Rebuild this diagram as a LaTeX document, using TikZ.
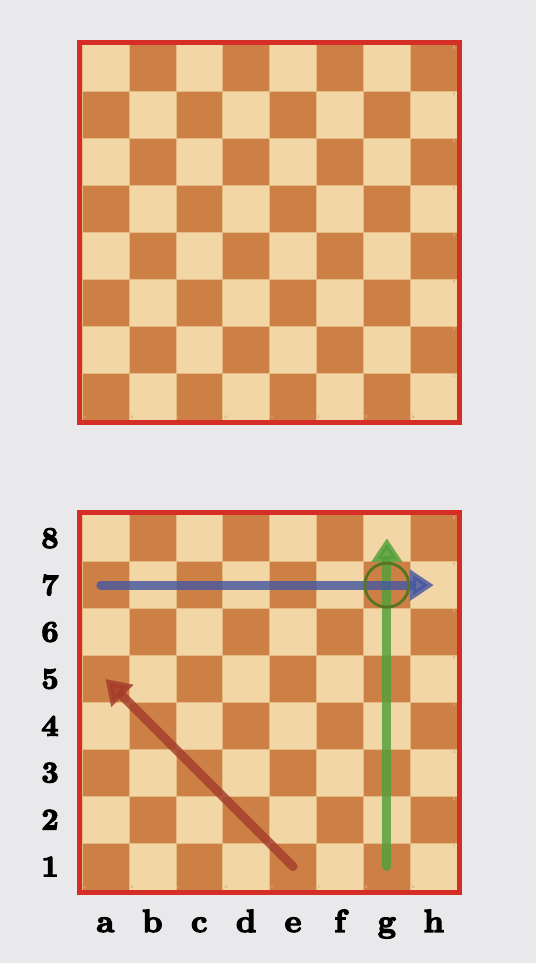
\documentclass[tikz,border=0pt]{standalone}
\usepackage{fontspec}
\newfontfamily\fatface{lmroman10-bold.otf}[FakeBold=4]
\usetikzlibrary{arrows.meta}
\definecolor{bgpaper}{RGB}{233,233,235}
\definecolor{woodlight}{RGB}{242,214,166}
\definecolor{wooddark}{RGB}{204,128,70}
\definecolor{woodedge}{RGB}{228,186,130}
\definecolor{marklight}{RGB}{238,190,140}
\definecolor{markdark}{RGB}{196,150,100}
\definecolor{framered}{RGB}{212,46,38}
\definecolor{moveblue}{RGB}{70,88,160}
\definecolor{movegreen}{RGB}{82,160,58}
\definecolor{movered}{RGB}{164,60,44}
\definecolor{ringgreen}{RGB}{86,116,34}
\newcommand{\sqsize}{46.9}

\begin{document}
\begin{tikzpicture}[
    x=1pt,
    y=1pt,
    square/.style={draw=woodedge, line width=0.6pt},
    frame/.style={draw=framered, line width=5pt},
    rankmark/.style={font=\fontsize{30}{30}\selectfont\fatface},
    filemark/.style={font=\fontsize{32}{32}\selectfont\fatface, anchor=base},
    tinymark/.style={font=\fontsize{4.5}{5}\selectfont, inner sep=1.2pt},
    move/.style={line width=9pt, line cap=round,
      -{Triangle[width=30pt,length=24pt]}, opacity=0.82},
    ring/.style={circle, draw=ringgreen, line width=2.8pt,
      minimum size=44pt, inner sep=0pt}
  ]
    % Paper background, picture is 536 x 963 (1pt per pixel).
    \fill[bgpaper] (0,0) rectangle (536,963);
    \useasboundingbox (0,0) rectangle (536,963);

    % Two boards: lower left corner of the squares at (82,\by).
    \foreach \by/\bn in {543/top,73/bot} {
      \foreach \f in {0,...,7} {
        \foreach \r in {0,...,7} {
          \pgfmathtruncatemacro{\sqpar}{mod(\f+\r,2)}
          \ifnum\sqpar=0 \def\sqcol{wooddark}\else\def\sqcol{woodlight}\fi
          \path[square, fill=\sqcol] (82+\f*\sqsize,\by+\r*\sqsize)
            rectangle ++(\sqsize,\sqsize);
        }
      }
      % Faint coordinates printed on the board.
      \foreach \f/\fl in {0/a,1/b,2/c,3/d,4/e,5/f,6/g,7/h} {
        \pgfmathtruncatemacro{\sqpar}{mod(\f,2)}
        \ifnum\sqpar=0 \def\mkcol{marklight}\else\def\mkcol{markdark}\fi
        \node[tinymark, anchor=south west, text=\mkcol] (\bn-\fl)
          at (82+\f*\sqsize,\by) {\fl};
      }
      \foreach \r in {1,...,8} {
        \pgfmathtruncatemacro{\sqpar}{mod(\r,2)}
        \ifnum\sqpar=0 \def\mkcol{marklight}\else\def\mkcol{markdark}\fi
        \node[tinymark, anchor=north east, text=\mkcol] (\bn-\r)
          at (82+8*\sqsize,\by+\r*\sqsize) {\r};
      }
      \draw[frame] (79.5,\by-2.5) rectangle (82+8*\sqsize+2.5,\by+8*\sqsize+2.5);
    }

    % Rank and file labels of the lower board.
    \foreach \r in {1,...,8} {
      \node[rankmark] (rank\r) at (50,73+\r*\sqsize-0.5*\sqsize) {\r};
    }
    \foreach \f/\fl in {0/a,1/b,2/c,3/d,4/e,5/f,6/g,7/h} {
      \node[filemark] (file\fl) at (82+\f*\sqsize+0.5*\sqsize,31) {\fl};
    }

    % Square centres used by the moves.
    \coordinate (e1) at (82+4.5*\sqsize,73+0.5*\sqsize);
    \coordinate (a5) at (82+0.5*\sqsize,73+4.5*\sqsize);
    \coordinate (g1) at (82+6.5*\sqsize,73+0.5*\sqsize);
    \coordinate (g8) at (82+6.5*\sqsize,73+7.5*\sqsize);
    \coordinate (a7) at (82+0.4*\sqsize,73+6.5*\sqsize);
    \coordinate (h7) at (82+7.5*\sqsize,73+6.5*\sqsize);
    \coordinate (g7) at (82+6.5*\sqsize,73+6.5*\sqsize);

    % Moves.
    \draw[move, movered] (e1) -- (a5);
    \draw[move, movegreen] (g1) -- (g8);
    \draw[move, moveblue] (a7) -- (h7);
    \node[ring] (target) at (g7) {};
  \end{tikzpicture}
\end{document}
